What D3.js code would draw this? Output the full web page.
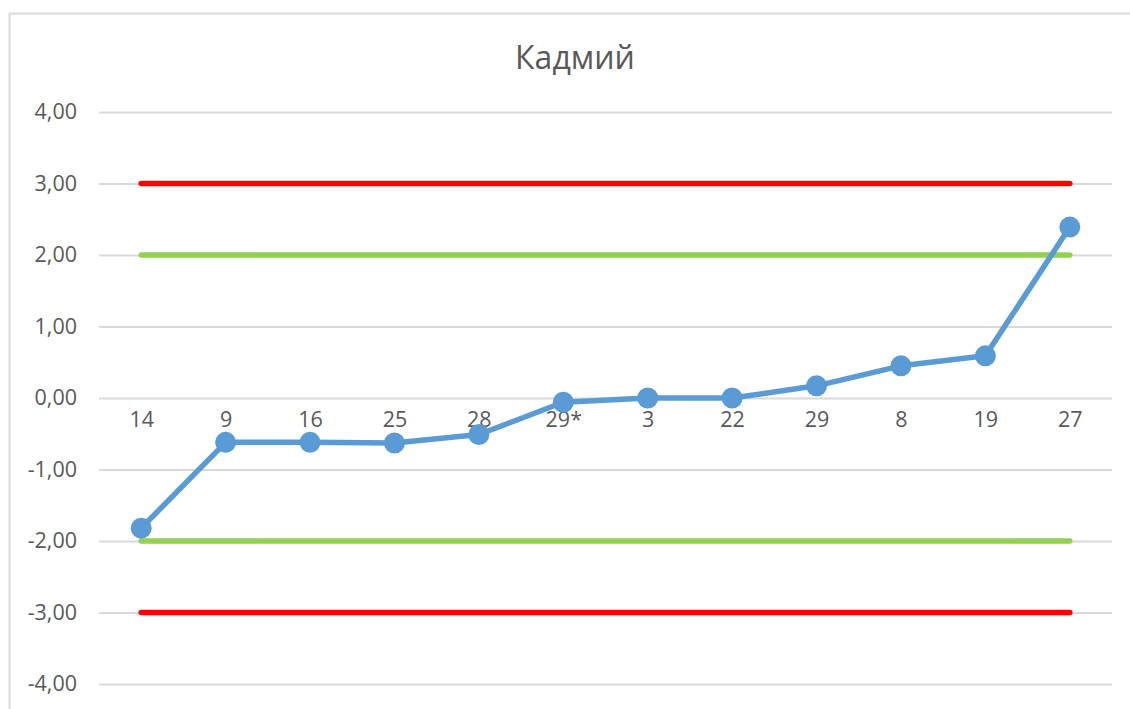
<!DOCTYPE html>
<html>
<head>
<meta charset="utf-8">
<script src="https://cdn.jsdelivr.net/npm/d3@7"></script>
<style>
  html, body { margin: 0; padding: 0; background: #fff; }
  svg { display: block; font-family: "Open Sans", "Noto Sans", sans-serif; }
</style>
</head>
<body>
<div id="chart"></div>
<script>
// Data
const categories = ['14', '9', '16', '25', '28', '29*', '3', '22', '29', '8', '19', '27'];
const zScores = [-1.82, -0.62, -0.62, -0.63, -0.51, -0.06, 0.0, 0.0, 0.17, 0.45, 0.59, 2.39];
const actionUpper = [3, 3, 3, 3, 3, 3, 3, 3, 3, 3, 3, 3];
const actionLower = [-3, -3, -3, -3, -3, -3, -3, -3, -3, -3, -3, -3];
const warnUpper = [2, 2, 2, 2, 2, 2, 2, 2, 2, 2, 2, 2];
const warnLower = [-2, -2, -2, -2, -2, -2, -2, -2, -2, -2, -2, -2];
const yTicks = [-4, -3, -2, -1, 0, 1, 2, 3, 4];
const chartTitle = 'Кадмий';

const width = 1130, height = 709;
const plot = { left: 99, right: 1112, top: 112, bottom: 684 };

const svg = d3.select('#chart').append('svg')
    .attr('width', width)
    .attr('height', height);

// outer chart frame (extends past the picture on the right and bottom)
svg.append('rect')
    .attr('x', 9.5).attr('y', 13.5)
    .attr('width', 1200).attr('height', 800)
    .attr('fill', '#fff')
    .attr('stroke', '#d9d9d9')
    .attr('stroke-width', 2);

const x = d3.scalePoint()
    .domain(categories)
    .range([plot.left, plot.right])
    .padding(0.5);

const y = d3.scaleLinear()
    .domain([-4, 4])
    .range([plot.bottom, plot.top]);

// title
svg.append('text')
    .attr('x', 575).attr('y', 69)
    .attr('text-anchor', 'middle')
    .attr('font-size', 32)
    .attr('fill', '#595959')
    .text(chartTitle);

// gridlines + y labels
const yAxis = d3.axisLeft(y)
    .tickValues(yTicks)
    .tickSize(-(plot.right - plot.left))
    .tickPadding(22)
    .tickFormat(d => d3.format('.2f')(d).replace('.', ',').replace('−', '-'));

const gy = svg.append('g')
    .attr('transform', `translate(${plot.left},0)`)
    .call(yAxis);
gy.select('.domain').remove();
gy.selectAll('.tick line').attr('stroke', '#d9d9d9').attr('stroke-width', 2);
gy.selectAll('.tick text')
    .attr('fill', '#595959')
    .attr('font-size', 21.5)
    .attr('font-family', '"Open Sans", "Noto Sans", sans-serif');

// category labels sit just under the zero line
const xAxis = d3.axisBottom(x).tickSize(0).tickPadding(14);
const gx = svg.append('g')
    .attr('transform', `translate(0,${y(0)})`)
    .call(xAxis);
gx.select('.domain').remove();
gx.selectAll('.tick text')
    .attr('fill', '#595959')
    .attr('font-size', 21.5)
    .attr('font-family', '"Open Sans", "Noto Sans", sans-serif');

const line = d3.line()
    .x((d, i) => x(categories[i]))
    .y(d => y(d));

// control limits
const limits = [
    { values: actionUpper, color: '#ff0000' },
    { values: warnUpper, color: '#92d050' },
    { values: warnLower, color: '#92d050' },
    { values: actionLower, color: '#ff0000' }
];
svg.append('g').selectAll('path')
    .data(limits)
    .join('path')
    .attr('d', d => line(d.values))
    .attr('fill', 'none')
    .attr('stroke', d => d.color)
    .attr('stroke-width', 5.5)
    .attr('stroke-linecap', 'round');

// z-score series
svg.append('path')
    .attr('d', line(zScores))
    .attr('fill', 'none')
    .attr('stroke', '#5b9bd5')
    .attr('stroke-width', 5.5)
    .attr('stroke-linejoin', 'round');

svg.append('g').selectAll('circle')
    .data(zScores)
    .join('circle')
    .attr('cx', (d, i) => x(categories[i]))
    .attr('cy', d => y(d))
    .attr('r', 10.5)
    .attr('fill', '#5b9bd5');
</script>
</body>
</html>
